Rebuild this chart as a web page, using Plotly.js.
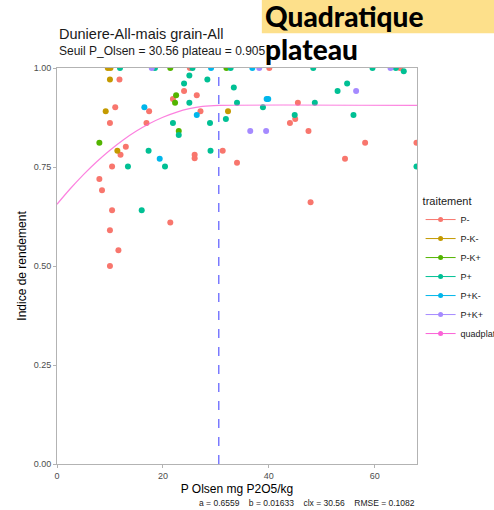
<!DOCTYPE html>
<html><head><meta charset="utf-8">
<script src="https://cdn.plot.ly/plotly-3.0.1.min.js"></script>
<style>html,body{margin:0;padding:0;background:#fff}#chart{width:494px;height:510px}</style>
</head><body><div id="chart"></div>
<script>
// Treatments and colors
const treatments = ["P-", "P-K-", "P-K+", "P+", "P+K-", "P+K+"];
const colors = ["#F8766D", "#C49A00", "#53B400", "#00C094", "#00B6EB", "#A58AFF"];
const curveColor = "#FB61D7";

// Observations per treatment (P Olsen, rendement index)
const pMinus_x = [25.1, 11.8, 21.9, 24.0, 26.4, 11.0, 17.4, 27.1, 10.0, 16.9, 13.0, 12.0, 26.0, 26.0, 31.3, 10.4, 34.0, 8.0, 8.5, 10.4, 21.4, 10.0, 11.6, 10.0, 40.1, 64.8, 45.5, 45.0, 44.0, 47.5, 58.2, 67.9, 54.4, 47.9];
const pMinus_y = [1.0, 0.971, 0.922, 0.942, 0.931, 0.901, 0.891, 0.891, 0.861, 0.861, 0.801, 0.781, 0.781, 0.772, 0.791, 0.751, 0.761, 0.720, 0.691, 0.641, 0.610, 0.590, 0.540, 0.500, 1.0, 1.0, 0.912, 0.871, 0.861, 0.841, 0.811, 0.811, 0.771, 0.661];
const pMkM_x = [9.6, 10.1, 10.0, 9.2, 32.3, 11.4];
const pMkM_y = [1.0, 1.0, 0.971, 0.891, 0.891, 0.791];
const pMkP_x = [21.4, 32.0, 22.5, 22.3, 23.0, 8.0];
const pMkP_y = [1.0, 1.0, 0.931, 0.912, 0.841, 0.811];
const pPlus_x = [11.9, 18.5, 25.6, 32.8, 48.4, 59.6, 64.0, 65.5, 25.0, 24.0, 28.4, 33.4, 25.0, 34.0, 21.9, 28.9, 31.9, 23.0, 17.3, 29.0, 13.4, 20.4, 16.0, 53.0, 54.8, 38.9, 48.7, 44.9, 56.0, 67.9];
const pPlus_y = [1.0, 1.0, 1.0, 1.0, 1.0, 1.0, 1.0, 0.992, 0.981, 0.961, 0.971, 0.951, 0.912, 0.912, 0.861, 0.861, 0.871, 0.831, 0.791, 0.791, 0.751, 0.751, 0.641, 0.942, 0.961, 0.901, 0.912, 0.881, 0.881, 0.751];
const pPkM_x = [29.1, 36.9, 16.5, 26.4, 19.4, 39.6, 39.9];
const pPkM_y = [1.0, 1.0, 0.901, 0.881, 0.771, 0.922, 0.922];
const pPkP_x = [17.9, 38.2, 63.0, 56.5, 36.5, 39.5];
const pPkP_y = [1.0, 1.0, 1.0, 0.942, 0.841, 0.841];

// Quadratic-plateau fitted curve (values read at these P Olsen levels)
const curve_x = [0, 2.5, 5, 7.5, 10, 12.5, 15, 17.5, 20, 22.5, 25, 27.5, 30.56, 68];
const curve_y = [0.6559, 0.6951, 0.7309, 0.7634, 0.7925, 0.8183, 0.8408, 0.8599, 0.8757, 0.8881, 0.8973, 0.9029, 0.9054, 0.9054];
const threshold = 30.56;

const xs = [pMinus_x, pMkM_x, pMkP_x, pPlus_x, pPkM_x, pPkP_x];
const ys = [pMinus_y, pMkM_y, pMkP_y, pPlus_y, pPkM_y, pPkP_y];

const traces = [];
treatments.forEach((t, i) => {
  traces.push({x: xs[i], y: ys[i], type: "scatter", mode: "markers", name: t,
    marker: {color: colors[i], size: 6}, showlegend: false, hoverinfo: "x+y"});
});
traces.push({x: curve_x, y: curve_y, type: "scatter", mode: "lines", name: "quadplateau",
  line: {color: curveColor, width: 1.2, shape: "spline"}, opacity: 0.8, showlegend: false});
// legend keys (line + point, as in the original)
treatments.concat(["quadplateau"]).forEach((t, i) => {
  traces.push({x: [null], y: [null], type: "scatter", mode: "lines+markers", name: t,
    line: {color: i < 6 ? colors[i] : curveColor, width: 1},
    marker: {color: i < 6 ? colors[i] : curveColor, size: 5}, showlegend: true});
});

const font = "Liberation Sans, Arial, sans-serif";
const layout = {
  width: 494, height: 510,
  margin: {l: 57, r: 77, t: 68, b: 46, autoexpand: false},
  paper_bgcolor: "#fff", plot_bgcolor: "#fff",
  font: {family: font, color: "#4d4d4d", size: 9},
  showlegend: true,
  legend: {x: 1.01, xanchor: "left", y: 0.69, yanchor: "top",
    title: {text: "traitement", font: {size: 11, color: "#1a1a1a"}},
    font: {size: 9, color: "#1a1a1a"}, tracegroupgap: 0, itemwidth: 30, bgcolor: "rgba(0,0,0,0)"},
  xaxis: {range: [0, 68], tickvals: [0, 20, 40, 60], ticktext: ["0", "20", "40", "60"],
    showgrid: false, zeroline: false, showline: true, linecolor: "#b3b3b3", linewidth: 1, mirror: true,
    ticks: "outside", ticklen: 3, tickcolor: "#b3b3b3", tickfont: {size: 9, color: "#4d4d4d"},
    title: {text: "P Olsen mg P2O5/kg", font: {size: 12, color: "#000"}, standoff: 4}},
  yaxis: {range: [0, 1], tickvals: [0, 0.25, 0.5, 0.75, 1], ticktext: ["0.00", "0.25", "0.50", "0.75", "1.00"],
    showgrid: false, zeroline: false, showline: true, linecolor: "#b3b3b3", linewidth: 1, mirror: true,
    ticks: "outside", ticklen: 3, tickcolor: "#b3b3b3", tickfont: {size: 9, color: "#4d4d4d"},
    title: {text: "Indice de rendement", font: {size: 12, color: "#000"}, standoff: 4}},
  shapes: [
    {type: "line", xref: "x", yref: "paper", x0: threshold, x1: threshold, y0: 0, y1: 1,
      line: {color: "#6666FF", width: 1.3, dash: "dash"}},
    {type: "rect", xref: "paper", yref: "paper", x0: 0.569, x1: 1.25, y0: 1.088, y1: 1.2,
      fillcolor: "#FDE08B", line: {width: 0}, layer: "below"}
  ],
  annotations: [
    {text: "Duniere-All-mais grain-All", xref: "paper", yref: "paper", x: 0, y: 1.086,
      xanchor: "left", yanchor: "middle", showarrow: false, font: {size: 14.5, color: "#1a1a1a", family: font}},
    {text: "Seuil P_Olsen = 30.56 plateau = 0.905", xref: "paper", yref: "paper", x: 0, y: 1.043,
      xanchor: "left", yanchor: "middle", showarrow: false, font: {size: 12, color: "#1a1a1a", family: font}},
    {text: "Quadratique", xref: "paper", yref: "paper", x: 0.571, y: 1.131,
      xanchor: "left", yanchor: "middle", showarrow: false, font: {size: 28, weight: 900, color: "#000", family: "Lato, Open Sans, sans-serif"}},
    {text: "plateau", xref: "paper", yref: "paper", x: 0.571, y: 1.047,
      xanchor: "left", yanchor: "middle", showarrow: false, font: {size: 28, weight: 900, color: "#000", family: "Lato, Open Sans, sans-serif"}},
    {text: "a = 0.6559    b = 0.01633    clx = 30.56    RMSE = 0.1082", xref: "paper", yref: "paper", x: 1, y: -0.099,
      xanchor: "right", yanchor: "middle", showarrow: false, font: {size: 8.5, color: "#1a1a1a", family: font}}
  ]
};
Plotly.newPlot("chart", traces, layout, {displayModeBar: false, staticPlot: true});
</script></body></html>
